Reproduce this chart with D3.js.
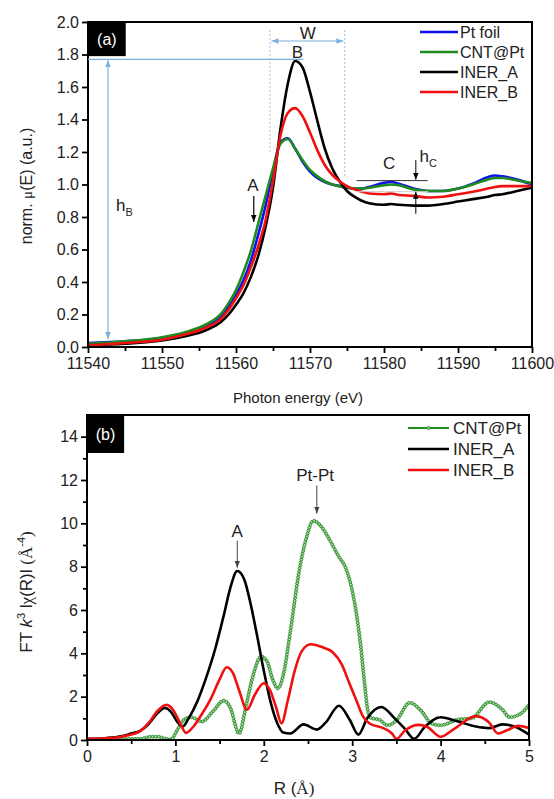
<!DOCTYPE html>
<html>
<head>
<meta charset="utf-8">
<script src="https://cdn.jsdelivr.net/npm/d3@7/dist/d3.min.js"></script>
<style>
  body { margin: 0; background: #fff; }
  svg { display: block; font-family: "Liberation Sans", Arial, sans-serif; }
</style>
</head>
<body>
<svg id="chart" width="554" height="799"></svg>
<script>
// ---- panel (a): XANES ----
var energy = [11540, 11545, 11550, 11553, 11556, 11558, 11559, 11560, 11561, 11562, 11563, 11564, 11565, 11566, 11567, 11568, 11569, 11570, 11571, 11572, 11573, 11574, 11575, 11576, 11577, 11578, 11580, 11581, 11582, 11584, 11586, 11588, 11590, 11592, 11594, 11595, 11596, 11598, 11600];
var ptFoil  = [0.025, 0.035, 0.055, 0.085, 0.13, 0.19, 0.25, 0.32, 0.41, 0.53, 0.69, 0.87, 1.08, 1.26, 1.285, 1.22, 1.14, 1.08, 1.04, 1.015, 1.0, 0.99, 0.98, 0.975, 0.975, 0.985, 1.01, 1.015, 1.005, 0.975, 0.96, 0.96, 0.975, 1.005, 1.045, 1.055, 1.05, 1.03, 1.0];
var cntPt   = [0.02, 0.035, 0.06, 0.09, 0.14, 0.205, 0.27, 0.35, 0.46, 0.59, 0.76, 0.93, 1.1, 1.25, 1.28, 1.22, 1.15, 1.09, 1.05, 1.02, 1.0, 0.99, 0.98, 0.975, 0.975, 0.98, 0.995, 1.0, 0.995, 0.97, 0.96, 0.96, 0.975, 1.0, 1.03, 1.04, 1.04, 1.025, 1.01];
var inerA   = [0.01, 0.02, 0.04, 0.065, 0.105, 0.155, 0.2, 0.26, 0.33, 0.43, 0.56, 0.74, 0.98, 1.34, 1.62, 1.76, 1.72, 1.57, 1.39, 1.22, 1.1, 1.02, 0.96, 0.925, 0.9, 0.885, 0.875, 0.88, 0.875, 0.87, 0.87, 0.88, 0.895, 0.91, 0.925, 0.935, 0.94, 0.96, 0.98];
var inerB   = [0.01, 0.025, 0.045, 0.075, 0.12, 0.175, 0.23, 0.3, 0.38, 0.49, 0.62, 0.78, 1.02, 1.3, 1.44, 1.47, 1.42, 1.32, 1.21, 1.12, 1.06, 1.02, 0.99, 0.97, 0.955, 0.945, 0.94, 0.945, 0.935, 0.93, 0.92, 0.925, 0.94, 0.955, 0.975, 0.985, 0.99, 0.99, 0.99];
var xanesNames  = ['Pt foil', 'CNT@Pt', 'INER_A', 'INER_B'];
var xanesColors = ['#1010f0', '#1e8c1e', '#000000', '#f01010'];

// ---- panel (b): FT-EXAFS ----
var rCnt  = [0, 0.3, 0.5, 0.6, 0.72, 0.8, 0.9, 0.95, 1.02, 1.1, 1.18, 1.3, 1.42, 1.55, 1.62, 1.72, 1.8, 1.88, 1.97, 2.04, 2.1, 2.16, 2.22, 2.3, 2.4, 2.48, 2.56, 2.65, 2.75, 2.85, 2.92, 3.0, 3.06, 3.1, 3.14, 3.18, 3.22, 3.3, 3.4, 3.5, 3.65, 3.78, 3.9, 4.0, 4.2, 4.35, 4.55, 4.7, 4.78, 4.9, 5.0];
var ftCnt = [0.0, 0.02, 0.05, 0.05, 0.15, 0.15, 0.05, 0.02, 0.45, 0.95, 1.05, 0.85, 1.3, 1.82, 1.5, 0.3, 1.6, 3.0, 3.85, 3.6, 2.8, 2.38, 3.0, 5.0, 7.8, 9.3, 10.12, 9.85, 9.2, 8.45, 8.0, 6.9, 5.5, 4.2, 2.6, 1.3, 1.0, 0.95, 0.68, 0.9, 1.72, 1.35, 0.75, 0.68, 0.95, 1.0, 1.75, 1.4, 1.05, 1.2, 1.62];
var rA  = [0, 0.2, 0.4, 0.5, 0.6, 0.7, 0.8, 0.88, 0.95, 1.02, 1.08, 1.15, 1.25, 1.35, 1.45, 1.55, 1.62, 1.7, 1.78, 1.85, 1.92, 2.0, 2.08, 2.15, 2.22, 2.3, 2.45, 2.6, 2.7, 2.85, 2.97, 3.07, 3.17, 3.33, 3.48, 3.6, 3.7, 3.82, 4.0, 4.2, 4.4, 4.55, 4.7, 4.85, 5.0];
var ftA = [0.05, 0.08, 0.18, 0.3, 0.42, 0.75, 1.25, 1.48, 1.3, 0.85, 0.62, 1.0, 1.8, 2.9, 4.2, 5.8, 7.0, 7.8, 7.4, 6.3, 4.9, 3.2, 1.7, 0.8, 0.35, 0.3, 0.72, 0.48, 0.8, 1.58, 0.95, 0.25, 1.0, 1.52, 1.0, 0.5, 0.05, 0.6, 1.05, 0.85, 0.62, 0.55, 0.72, 0.6, 0.25];
var rB  = [0, 0.3, 0.5, 0.6, 0.7, 0.8, 0.9, 0.98, 1.05, 1.12, 1.2, 1.3, 1.4, 1.5, 1.58, 1.65, 1.72, 1.81, 1.9, 2.0, 2.07, 2.14, 2.2, 2.27, 2.35, 2.43, 2.53, 2.65, 2.78, 2.88, 2.97, 3.05, 3.12, 3.2, 3.35, 3.45, 3.5, 3.6, 3.75, 3.85, 4.0, 4.15, 4.4, 4.55, 4.65, 4.75, 4.88, 5.0];
var ftB = [0.05, 0.1, 0.25, 0.4, 0.8, 1.35, 1.62, 1.35, 0.8, 0.33, 0.6, 1.2, 1.9, 2.8, 3.36, 3.1, 2.3, 1.4, 2.1, 2.62, 2.3, 1.5, 0.77, 1.8, 3.2, 4.1, 4.42, 4.3, 4.05, 3.5, 2.6, 1.8, 1.1, 0.75, 0.55, 0.3, 0.05, 0.45, 0.7, 0.6, 0.15, 0.5, 1.1, 0.8, 0.3, 0.45, 0.65, 0.55];
var ftNames  = ['CNT@Pt', 'INER_A', 'INER_B'];
var ftColors = ['#1e8c1e', '#000000', '#f01010'];

var annBlue = '#7fb0dc';
var svg = d3.select('#chart');

var defs = svg.append('defs');
function arrowMarker(id, color) {
  defs.append('marker').attr('id', id)
    .attr('viewBox', '0 0 10 10').attr('refX', 10).attr('refY', 5)
    .attr('markerWidth', 7).attr('markerHeight', 7).attr('orient', 'auto-start-reverse')
    .attr('markerUnits', 'userSpaceOnUse')
    .append('path').attr('d', 'M0,1 L10,5 L0,9 Z').attr('fill', color);
}
arrowMarker('arBlue', annBlue);
arrowMarker('arBlack', '#000');
arrowMarker('arGray', '#444');

function axes(g, x, y, w, h, xMajor, xMinor, yMajor, yMinor, xFmt, yFmt) {
  g.append('g').attr('transform', 'translate(0,' + h + ')')
    .call(d3.axisBottom(x).tickValues(xMajor).tickSize(6).tickPadding(5).tickFormat(xFmt));
  g.append('g').attr('transform', 'translate(0,' + h + ')')
    .call(d3.axisBottom(x).tickValues(xMinor).tickSize(4).tickFormat(''));
  g.append('g')
    .call(d3.axisLeft(y).tickValues(yMajor).tickSize(6).tickPadding(3).tickFormat(yFmt));
  if (yMinor.length) {
    g.append('g').call(d3.axisLeft(y).tickValues(yMinor).tickSize(4).tickFormat(''));
  }
  g.selectAll('.domain').remove();
  g.selectAll('.tick line').attr('stroke', '#000').attr('stroke-width', 1.8);
  g.selectAll('.tick text').attr('fill', '#222').style('font-size', '16px')
    .style('font-family', '"Liberation Sans", Arial, sans-serif');
  g.append('rect').attr('width', w).attr('height', h)
    .attr('fill', 'none').attr('stroke', '#000').attr('stroke-width', 2);
}

// ================= panel (a) =================
var A = { left: 88, top: 22, w: 444, h: 325 };
var ga = svg.append('g').attr('transform', 'translate(' + A.left + ',' + A.top + ')');
var xa = d3.scaleLinear().domain([11540, 11600]).range([0, A.w]);
var ya = d3.scaleLinear().domain([0, 2]).range([A.h, 0]);

defs.append('clipPath').attr('id', 'clipA').append('rect').attr('width', A.w).attr('height', A.h);

var lineA = d3.line().curve(d3.curveMonotoneX)
  .x(function (d) { return xa(d[0]); }).y(function (d) { return ya(d[1]); });

var xanesSeries = [ptFoil, cntPt, inerA, inerB];
var curvesA = ga.append('g').attr('clip-path', 'url(#clipA)');
xanesSeries.forEach(function (s, i) {
  curvesA.append('path')
    .datum(energy.map(function (e, k) { return [e, s[k]]; }))
    .attr('d', lineA).attr('fill', 'none')
    .attr('stroke', xanesColors[i]).attr('stroke-width', 2.6);
});

axes(ga, xa, ya, A.w, A.h,
  d3.range(11540, 11601, 10), d3.range(11545, 11600, 10),
  d3.range(0, 2.01, 0.2), [], d3.format('d'), d3.format('.1f'));

// annotations (a)
var ann = ga.append('g');
ann.append('rect').attr('x', 0).attr('y', 0).attr('width', xa(11545.1)).attr('height', ya(1.79)).attr('fill', '#000');
ann.append('text').attr('x', xa(11545.1) / 2).attr('y', ya(1.79) / 2 + 6).attr('text-anchor', 'middle')
  .attr('fill', '#fff').style('font-size', '16px').text('(a)');

ann.append('line').attr('x1', xa(11540)).attr('x2', xa(11569.1)).attr('y1', ya(1.77)).attr('y2', ya(1.77))
  .attr('stroke', annBlue).attr('stroke-width', 1.2);
ann.append('line').attr('x1', xa(11542.7)).attr('x2', xa(11542.7)).attr('y1', ya(1.765)).attr('y2', ya(0.05))
  .attr('stroke', annBlue).attr('stroke-width', 1.2)
  .attr('marker-start', 'url(#arBlue)').attr('marker-end', 'url(#arBlue)');
var hB = ann.append('text').attr('x', xa(11543.8)).attr('y', ya(0.84)).style('font-size', '17px').attr('fill', '#222');
hB.append('tspan').text('h');
hB.append('tspan').attr('dy', 5).style('font-size', '11px').text('B');

[11564.6, 11574.7].forEach(function (e, i) {
  ann.append('line').attr('x1', xa(e)).attr('x2', xa(e)).attr('y1', ya(1.95)).attr('y2', ya(i === 0 ? 1.2 : 1.05))
    .attr('stroke', annBlue).attr('stroke-width', 0.8).attr('stroke-dasharray', '2,2');
});
ann.append('line').attr('x1', xa(11564.8)).attr('x2', xa(11574.5)).attr('y1', ya(1.883)).attr('y2', ya(1.883))
  .attr('stroke', annBlue).attr('stroke-width', 1.2)
  .attr('marker-start', 'url(#arBlue)').attr('marker-end', 'url(#arBlue)');
ann.append('text').attr('x', xa(11569.7)).attr('y', ya(1.934) + 6).attr('text-anchor', 'middle')
  .style('font-size', '17px').attr('fill', '#222').text('W');
ann.append('text').attr('x', xa(11568.3)).attr('y', ya(1.815) + 6).attr('text-anchor', 'middle')
  .style('font-size', '17px').attr('fill', '#222').text('B');

ann.append('text').attr('x', xa(11562.3)).attr('y', ya(0.995) + 6).attr('text-anchor', 'middle')
  .style('font-size', '17px').attr('fill', '#222').text('A');
ann.append('line').attr('x1', xa(11562.4)).attr('x2', xa(11562.4)).attr('y1', ya(0.93)).attr('y2', ya(0.77))
  .attr('stroke', '#000').attr('stroke-width', 1.2).attr('marker-end', 'url(#arBlack)');

ann.append('text').attr('x', xa(11580.7)).attr('y', ya(1.13) + 6).attr('text-anchor', 'middle')
  .style('font-size', '17px').attr('fill', '#222').text('C');
var hC = ann.append('text').attr('x', xa(11584.8)).attr('y', ya(1.15) + 2).style('font-size', '17px').attr('fill', '#222');
hC.append('tspan').text('h');
hC.append('tspan').attr('dy', 5).style('font-size', '11px').text('C');
ann.append('line').attr('x1', xa(11576.3)).attr('x2', xa(11585.9)).attr('y1', ya(1.024)).attr('y2', ya(1.024))
  .attr('stroke', '#333').attr('stroke-width', 1);
ann.append('line').attr('x1', xa(11576.3)).attr('x2', xa(11586)).attr('y1', ya(0.956)).attr('y2', ya(0.956))
  .attr('stroke', '#ccc').attr('stroke-width', 1);
ann.append('line').attr('x1', xa(11584.3)).attr('x2', xa(11584.3)).attr('y1', ya(1.15)).attr('y2', ya(1.03))
  .attr('stroke', '#000').attr('stroke-width', 1).attr('marker-end', 'url(#arBlack)');
ann.append('line').attr('x1', xa(11584.3)).attr('x2', xa(11584.3)).attr('y1', ya(0.82)).attr('y2', ya(0.955))
  .attr('stroke', '#000').attr('stroke-width', 1).attr('marker-end', 'url(#arBlack)');

// legend (a)
var legA = ga.append('g').attr('transform', 'translate(' + (420 - A.left) + ',' + (32 - A.top) + ')');
xanesNames.forEach(function (n, i) {
  legA.append('line').attr('x1', 0).attr('x2', 38).attr('y1', i * 20).attr('y2', i * 20)
    .attr('stroke', xanesColors[i]).attr('stroke-width', 2.6);
  legA.append('text').attr('x', 40).attr('y', i * 20 + 6).style('font-size', '16px').attr('fill', '#222').text(n);
});

// axis titles (a)
svg.append('text').attr('x', A.left + A.w / 2 - 12).attr('y', 403).attr('text-anchor', 'middle')
  .style('font-size', '15px').attr('fill', '#222').text('Photon energy (eV)');
var yta = svg.append('text').attr('transform', 'translate(32,' + 186 + ') rotate(-90)')
  .attr('text-anchor', 'middle').style('font-size', '16px').attr('fill', '#222');
yta.append('tspan').text('norm. ');
yta.append('tspan').style('font-family', '"Liberation Serif", serif').style('font-size', '15px').text('\u03bc');
yta.append('tspan').text('(E) (a.u.)');

// ================= panel (b) =================
var B = { left: 87, top: 415, w: 442, h: 325 };
var gb = svg.append('g').attr('transform', 'translate(' + B.left + ',' + B.top + ')');
var xb = d3.scaleLinear().domain([0, 5]).range([0, B.w]);
var yb = d3.scaleLinear().domain([0, 15]).range([B.h, 0]);

defs.append('clipPath').attr('id', 'clipB').append('rect').attr('width', B.w).attr('height', B.h);

var lineB = d3.line().curve(d3.curveMonotoneX)
  .x(function (d) { return xb(d[0]); }).y(function (d) { return yb(d[1]); });

function pairs(xs, ys) { return xs.map(function (v, k) { return [v, ys[k]]; }); }
var curvesB = gb.append('g').attr('clip-path', 'url(#clipB)');

var cntPath = curvesB.append('path').datum(pairs(rCnt, ftCnt)).attr('d', lineB)
  .attr('fill', 'none').attr('stroke', ftColors[0]).attr('stroke-width', 1.6);
// small open circle markers laid along the drawn CNT@Pt curve
var node = cntPath.node(), total = node.getTotalLength();
for (var s = 0; s <= total; s += 3) {
  var p = node.getPointAtLength(s);
  curvesB.append('circle').attr('cx', p.x).attr('cy', p.y).attr('r', 1.5)
    .attr('fill', '#a6d69e').attr('stroke', '#2a8a2a').attr('stroke-width', 0.9);
}
curvesB.append('path').datum(pairs(rA, ftA)).attr('d', lineB)
  .attr('fill', 'none').attr('stroke', ftColors[1]).attr('stroke-width', 2.6);
curvesB.append('path').datum(pairs(rB, ftB)).attr('d', lineB)
  .attr('fill', 'none').attr('stroke', ftColors[2]).attr('stroke-width', 2.6);

axes(gb, xb, yb, B.w, B.h,
  d3.range(0, 5.01, 1), d3.range(0.5, 5, 1),
  d3.range(0, 14.01, 2), d3.range(1, 15, 2), d3.format('d'), d3.format('d'));

// annotations (b)
var annb = gb.append('g');
annb.append('rect').attr('x', 0).attr('y', 0).attr('width', xb(0.42)).attr('height', 38).attr('fill', '#000');
annb.append('text').attr('x', xb(0.42) / 2).attr('y', 25).attr('text-anchor', 'middle')
  .attr('fill', '#fff').style('font-size', '16px').text('(b)');
annb.append('text').attr('x', xb(1.7)).attr('y', yb(9.71) + 7).attr('text-anchor', 'middle')
  .style('font-size', '17px').attr('fill', '#222').text('A');
annb.append('line').attr('x1', xb(1.7)).attr('x2', xb(1.7)).attr('y1', yb(9.2)).attr('y2', yb(7.95))
  .attr('stroke', '#444').attr('stroke-width', 1).attr('marker-end', 'url(#arGray)');
annb.append('text').attr('x', xb(2.58)).attr('y', yb(12.26) + 7).attr('text-anchor', 'middle')
  .style('font-size', '17px').attr('fill', '#222').text('Pt-Pt');
annb.append('line').attr('x1', xb(2.6)).attr('x2', xb(2.6)).attr('y1', yb(11.75)).attr('y2', yb(10.45))
  .attr('stroke', '#444').attr('stroke-width', 1).attr('marker-end', 'url(#arGray)');

// legend (b)
var legB = gb.append('g').attr('transform', 'translate(' + (408 - B.left) + ',' + (428 - B.top) + ')');
ftNames.forEach(function (n, i) {
  legB.append('line').attr('x1', 0).attr('x2', 41).attr('y1', i * 21).attr('y2', i * 21)
    .attr('stroke', ftColors[i]).attr('stroke-width', i === 0 ? 1.8 : 2.6);
  if (i === 0) {
    legB.append('circle').attr('cx', 20.5).attr('cy', 0).attr('r', 1.6)
      .attr('fill', '#a6d69e').attr('stroke', '#2a8a2a').attr('stroke-width', 0.9);
  }
  legB.append('text').attr('x', 45).attr('y', i * 21 + 6).style('font-size', '17px').attr('fill', '#222').text(n);
});

// axis titles (b)
var xtb = svg.append('text').attr('x', B.left + B.w / 2 - 14).attr('y', 794).attr('text-anchor', 'middle')
  .style('font-size', '17px').attr('fill', '#222');
xtb.append('tspan').text('R (');
xtb.append('tspan').style('font-family', '"Liberation Serif", serif').text('\u00c5');
xtb.append('tspan').style('font-family', '"Liberation Serif", serif').text(')');

var ytb = svg.append('text').attr('transform', 'translate(32,' + 592 + ') rotate(-90)')
  .attr('text-anchor', 'middle').style('font-size', '17px').attr('fill', '#222');
ytb.append('tspan').text('FT ');
ytb.append('tspan').style('font-style', 'italic').text('k');
ytb.append('tspan').attr('dy', -7).style('font-size', '11px').text('3');
ytb.append('tspan').attr('dy', 7).text(' l');
ytb.append('tspan').style('font-family', '"Liberation Serif", serif').text('\u03c7');
ytb.append('tspan').text('(R)l ');
ytb.append('tspan').style('font-family', '"Liberation Serif", serif').text('(\u00c5');
ytb.append('tspan').attr('dy', -7).style('font-size', '11px').text('-4');
ytb.append('tspan').attr('dy', 7).style('font-family', '"Liberation Serif", serif').text(')');
</script>
</body>
</html>
